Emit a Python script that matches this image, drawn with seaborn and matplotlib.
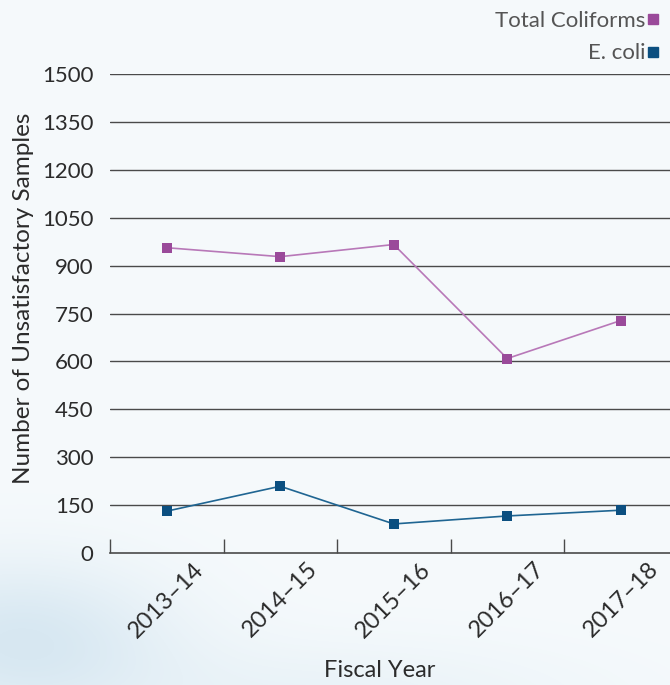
import numpy as np
import pandas as pd
import matplotlib
matplotlib.use("Agg")
import matplotlib.pyplot as plt
import seaborn as sns
from matplotlib.lines import Line2D

# Data
fiscal_years = ["2013\u201314", "2014\u201315", "2015\u201316", "2016\u201317", "2017\u201318"]
total_coliforms = [956, 928, 966, 609, 728]
e_coli = [131, 209, 91, 116, 134]
y_ticks = [0, 150, 300, 450, 600, 750, 900, 1050, 1200, 1350, 1500]

df = pd.DataFrame({
    "Fiscal Year": fiscal_years * 2,
    "Samples": total_coliforms + e_coli,
    "Series": ["Total Coliforms"] * len(fiscal_years) + ["E. coli"] * len(fiscal_years),
})

sns.set_theme(style="white")
plt.rcParams["font.family"] = ["Lato", "DejaVu Sans"]

BG = "#f6fafc"
GRID = "#4a4a4a"
TEXT = "#2b2b2b"
PURPLE_LINE = "#b878b8"
PURPLE_MARK = "#9a4a9a"
BLUE_LINE = "#1f6592"
BLUE_MARK = "#0b4f80"

fig = plt.figure(figsize=(6.7, 6.85), dpi=100)
fig.patch.set_facecolor(BG)

# soft background haze at the lower left
bg_ax = fig.add_axes([0, 0, 1, 1], zorder=-10)
yy, xx = np.mgrid[0:685, 0:670]
blob = np.exp(-(((xx - 20) / 150.0) ** 2 + ((yy - 640) / 80.0) ** 2))
blob += 0.4 * np.exp(-(((xx - 330) / 260.0) ** 2 + ((yy - 700) / 60.0) ** 2))
base = np.array([0xf6, 0xfa, 0xfc]) / 255.0
haze = np.array([0xd8, 0xe8, 0xf2]) / 255.0
img = base[None, None, :] + (haze - base)[None, None, :] * np.clip(blob, 0, 1)[:, :, None]
bg_ax.imshow(img, extent=[0, 1, 0, 1], aspect="auto", origin="upper")
bg_ax.axis("off")

ax = fig.add_axes([110 / 670, (685 - 553) / 685, 567.5 / 670, (553 - 74) / 685])
ax.set_facecolor("none")

palette = {"Total Coliforms": PURPLE_LINE, "E. coli": BLUE_LINE}
sns.lineplot(data=df, x="Fiscal Year", y="Samples", hue="Series", palette=palette,
             sort=False, linewidth=1.2, marker="s", markersize=6.5,
             markeredgewidth=0, legend=False, ax=ax, zorder=3)
# darker marker faces
for line, mc in zip(ax.lines, [PURPLE_MARK, BLUE_MARK]):
    line.set_markerfacecolor(mc)
    line.set_markeredgecolor(mc)

ax.set_xlim(-0.5, 4.5)
ax.set_ylim(0, 1500)
ax.set_yticks(y_ticks)
ax.set_yticklabels([str(v) for v in y_ticks], fontsize=16, color=TEXT)
for v in y_ticks[1:]:
    ax.axhline(v, color=GRID, linewidth=1.0, zorder=1)

ax.set_xticks(range(len(fiscal_years)))
ax.set_xticklabels(fiscal_years, rotation=45, ha="center", fontsize=17, color=TEXT)
ax.set_xticks(np.arange(-0.5, len(fiscal_years) - 0.5, 1.0), minor=True)
ax.tick_params(axis="x", which="major", length=0, pad=4)
ax.tick_params(axis="x", which="minor", direction="in", length=10, width=1.0, color=GRID, bottom=True)
ax.tick_params(axis="y", length=0, pad=12)

for s in ["top", "right", "left"]:
    ax.spines[s].set_visible(False)
ax.spines["bottom"].set_color(GRID)
ax.spines["bottom"].set_linewidth(1.2)

ax.set_xlabel("Fiscal Year", fontsize=17, color=TEXT)
ax.set_ylabel("Number of Unsatisfactory Samples", fontsize=17.5, color=TEXT)
ax.xaxis.set_label_coords((380 - 110) / 567.5, -(660 - 553) / (553 - 74))
ax.yaxis.set_label_coords(-(110 - 34) / 567.5, (553 - 298) / (553 - 74))

handles = [
    Line2D([], [], linestyle="none", marker="s", markersize=7, color=PURPLE_MARK, label="Total Coliforms"),
    Line2D([], [], linestyle="none", marker="s", markersize=7, color=BLUE_MARK, label="E. coli"),
]
fig.legend(handles=handles, loc="upper right", bbox_to_anchor=(1.0, 1.0),
           frameon=False, markerfirst=False, handlelength=0.5, handletextpad=0.1,
           labelspacing=0.55, prop={"size": 16}, labelcolor="#555555",
           borderaxespad=0.1)

fig.savefig("out.png", dpi=100, facecolor=BG)
